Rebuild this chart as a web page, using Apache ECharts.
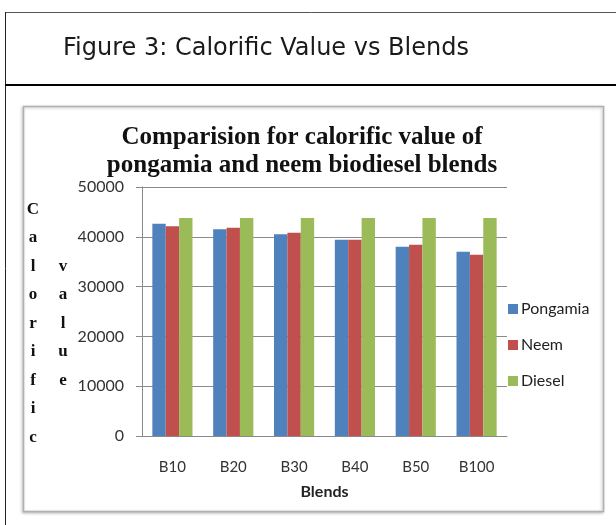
<!DOCTYPE html>
<html>
<head>
<meta charset="utf-8">
<title>Calorific Value vs Blends</title>
<script src="https://cdn.jsdelivr.net/npm/echarts@6/dist/echarts.min.js"></script>
<style>
  html, body { margin: 0; padding: 0; background: #ffffff; }
  #chart { width: 616px; height: 525px; }
</style>
</head>
<body>
<div id="chart"></div>
<script>
// Blend categories and calorific values (kJ/kg) per fuel
const blends = ['B10', 'B20', 'B30', 'B40', 'B50', 'B100'];
const pongamia = [42600, 41500, 40500, 39400, 38000, 37000];
const neem = [42100, 41800, 40800, 39400, 38400, 36400];
const diesel = [43800, 43800, 43800, 43800, 43800, 43800];
const yTicks = { min: 0, max: 50000, interval: 10000 };

const seriesNames = ['Pongamia', 'Neem', 'Diesel'];
const seriesColors = ['#4F81BD', '#C0504D', '#9BBB59'];
const seriesData = [pongamia, neem, diesel];

const chart = echarts.init(document.getElementById('chart'), null, { renderer: 'canvas' });

const option = {
  animation: false,
  backgroundColor: '#ffffff',
  textStyle: { fontFamily: 'Lato, "Open Sans", sans-serif' },
  graphic: [
    // outer figure frame
    { type: 'line', shape: { x1: 5, y1: 12.5, x2: 616, y2: 12.5 }, style: { stroke: '#555', lineWidth: 1 } },
    { type: 'line', shape: { x1: 5.5, y1: 12, x2: 5.5, y2: 525 }, style: { stroke: '#222', lineWidth: 1 } },
    { type: 'line', shape: { x1: 5, y1: 85, x2: 616, y2: 85 }, style: { stroke: '#000', lineWidth: 2 } },
    {
      type: 'text', z: 10,
      style: {
        x: 266, y: 49, text: 'Figure 3: Calorific Value vs Blends',
        font: '24px "DejaVu Sans"', fill: '#1a1a1a', align: 'center', verticalAlign: 'middle'
      }
    },
    // chart box
    {
      type: 'rect', z: -10,
      shape: { x: 23.5, y: 106.5, width: 580, height: 405 },
      style: { fill: '#ffffff', stroke: '#b0b0b0', lineWidth: 1.5, shadowBlur: 3, shadowColor: 'rgba(0,0,0,0.25)', shadowOffsetX: -1, shadowOffsetY: 1 }
    },
    // chart heading
    {
      type: 'text', z: 10,
      style: {
        x: 302, y: 124, text: 'Comparision for calorific value of\npongamia and neem biodiesel blends',
        font: 'bold 25px "Liberation Serif"', fill: '#111', align: 'center', lineHeight: 28
      }
    },
    // stacked y-axis title
    {
      type: 'text', z: 10,
      style: {
        x: 33, y: 195, text: 'C\na\nl\no\nr\ni\nf\ni\nc',
        font: 'bold 17px "Liberation Serif"', fill: '#111', align: 'center', lineHeight: 28.5
      }
    },
    {
      type: 'text', z: 10,
      style: {
        x: 63, y: 252, text: 'v\na\nl\nu\ne',
        font: 'bold 17px "Liberation Serif"', fill: '#111', align: 'center', lineHeight: 28.5
      }
    }
  ],
  legend: {
    orient: 'vertical',
    left: 503,
    top: 296,
    itemWidth: 10,
    itemHeight: 10,
    itemGap: 20,
    icon: 'rect',
    data: seriesNames,
    textStyle: { fontSize: 16, color: '#222', fontFamily: 'Lato, sans-serif', padding: [0, 0, 0, -2] }
  },
  grid: { left: 142, top: 187, width: 365, height: 249, containLabel: false },
  xAxis: {
    type: 'category',
    data: blends,
    name: 'Blends',
    nameLocation: 'middle',
    nameGap: 48,
    nameTextStyle: { fontWeight: 'bold', fontSize: 16, color: '#222' },
    axisLine: { lineStyle: { color: '#8a8a8a', width: 1 } },
    axisTick: { show: false },
    axisLabel: { margin: 24, fontSize: 15, color: '#333' }
  },
  yAxis: {
    type: 'value',
    min: yTicks.min,
    max: yTicks.max,
    interval: yTicks.interval,
    axisLine: { show: true, lineStyle: { color: '#8a8a8a', width: 1 } },
    axisTick: { show: true, length: 6, lineStyle: { color: '#8a8a8a' } },
    axisLabel: { margin: 18, fontSize: 16, color: '#333', formatter: (v) => String(v) },
    splitLine: { lineStyle: { color: '#8a8a8a', width: 1 } }
  },
  series: seriesNames.map((name, i) => ({
    name: name,
    type: 'bar',
    data: seriesData[i],
    barGap: '0%',
    barCategoryGap: '34%',
    itemStyle: { color: seriesColors[i] }
  }))
};

chart.setOption(option);
</script>
</body>
</html>
